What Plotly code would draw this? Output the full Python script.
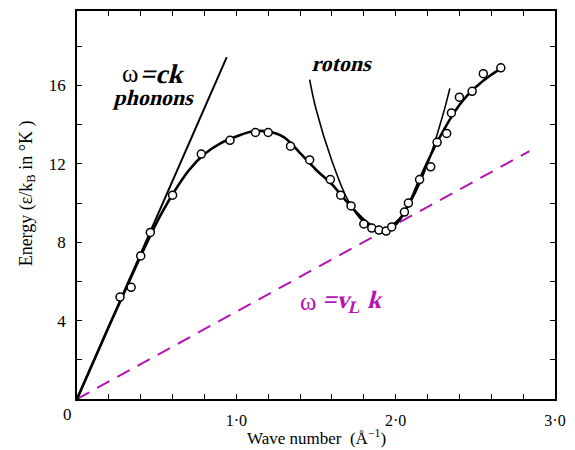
import plotly.graph_objects as go

# measured points (wave number in 1/Å, energy in K)
pts_k = [0.27, 0.34, 0.40, 0.46, 0.60, 0.78, 0.96, 1.12, 1.20, 1.34, 1.46, 1.59, 1.655,
         1.72, 1.80, 1.85, 1.895, 1.94, 1.975, 2.055, 2.08, 2.15, 2.22, 2.26, 2.32,
         2.35, 2.40, 2.48, 2.55, 2.66]
pts_e = [5.2, 5.7, 7.3, 8.5, 10.4, 12.5, 13.2, 13.6, 13.6, 12.9, 12.2, 11.2, 10.4,
         9.85, 8.93, 8.72, 8.62, 8.57, 8.78, 9.54, 10.0, 11.2, 11.85, 13.1, 13.55,
         14.6, 15.4, 15.7, 16.6, 16.9]

# smooth dispersion curve
fit_k = [0, 0.1, 0.2, 0.3, 0.4, 0.5, 0.55, 0.6, 0.7, 0.8, 0.9, 1.0, 1.1, 1.2, 1.3, 1.4,
         1.5, 1.6, 1.7, 1.8, 1.85, 1.9, 1.95, 2.0, 2.05, 2.1, 2.15, 2.2, 2.25, 2.3,
         2.35, 2.4, 2.45, 2.5, 2.6, 2.68]
fit_e = [0, 1.85, 3.7, 5.5, 7.3, 9.0, 9.75, 10.45, 11.65, 12.5, 13.05, 13.4, 13.65, 13.65,
         13.35, 12.55, 11.7, 10.95, 10.0, 9.15, 8.85, 8.7, 8.7, 8.9, 9.45, 10.25, 11.2,
         12.1, 12.95, 13.7, 14.4, 15.0, 15.5, 15.9, 16.55, 16.95]

# roton parabola
rot_k = [1.46, 1.5, 1.6, 1.7, 1.8, 1.9, 2.0, 2.1, 2.2, 2.3, 2.34]
rot_e = [16.3, 14.8, 12.15, 10.15, 9.02, 8.65, 9.02, 10.15, 12.0, 14.6, 15.85]

# phonon line and Landau line
ph_k = [0, 0.94]
ph_e = [0, 17.45]
vl_k = [0, 2.84]
vl_e = [0, 12.65]

x_tickvals = [1.0, 2.0, 3.0]
x_ticktext = ["1·0", "2·0", "3·0"]
y_tickvals = [4, 8, 12, 16]
y_ticktext = ["4", "8", "12", "16"]
x_marks = [round(0.2 * i, 1) for i in range(1, 15)]
y_marks = [2 * i for i in range(1, 10)]

MAG = "#b514b5"
SERIF = "Liberation Serif"
X_RANGE = [0, 3.0]
Y_RANGE = [0, 19.8]

fig = go.Figure()
fig.add_trace(go.Scatter(x=vl_k, y=vl_e, mode="lines",
                         line=dict(color=MAG, width=2, dash="14px,9px")))
fig.add_trace(go.Scatter(x=ph_k, y=ph_e, mode="lines",
                         line=dict(color="black", width=2)))
fig.add_trace(go.Scatter(x=rot_k, y=rot_e, mode="lines", line_shape="spline",
                         line=dict(color="black", width=1.6)))
fig.add_trace(go.Scatter(x=fit_k, y=fit_e, mode="lines", line_shape="spline",
                         line=dict(color="black", width=2.6)))
fig.add_trace(go.Scatter(x=pts_k, y=pts_e, mode="markers",
                         marker=dict(symbol="circle", size=8, color="white",
                                     line=dict(color="black", width=1.5))))
# empty trace that only carries the top/right tick axes
fig.add_trace(go.Scatter(x=[], y=[], xaxis="x2", yaxis="y2", mode="lines",
                         hoverinfo="skip"))

tick_style = dict(ticks="inside", ticklen=5, tickwidth=1.2, tickcolor="black",
                  showgrid=False, zeroline=False)

fig.update_layout(
    width=575, height=450,
    margin=dict(l=77, r=11, t=9, b=51),
    plot_bgcolor="white", paper_bgcolor="white",
    showlegend=False,
    font=dict(family=SERIF, color="black"),
    xaxis=dict(range=X_RANGE, tickvals=x_tickvals, ticktext=x_ticktext,
               minor=dict(tickvals=x_marks, ticks="inside", ticklen=5,
                          tickwidth=1.2, tickcolor="black", showgrid=False),
               showline=True, linecolor="black", linewidth=1.5, mirror=True,
               tickfont=dict(family=SERIF, size=16), ticklabelstandoff=6,
               **tick_style),
    yaxis=dict(range=Y_RANGE, tickvals=y_tickvals, ticktext=y_ticktext,
               minor=dict(tickvals=y_marks, ticks="inside", ticklen=5,
                          tickwidth=1.2, tickcolor="black", showgrid=False),
               showline=True, linecolor="black", linewidth=1.5, mirror=True,
               tickfont=dict(family=SERIF, size=17), ticklabelstandoff=6,
               **tick_style),
    xaxis2=dict(range=X_RANGE, overlaying="x", side="top", anchor="y2",
                tickvals=x_marks, showticklabels=False, showline=False,
                **tick_style),
    yaxis2=dict(range=Y_RANGE, overlaying="y", side="right", anchor="x2",
                tickvals=y_marks, showticklabels=False, showline=False,
                **tick_style),
)

ann = [
    dict(x=0, y=0, xref="paper", yref="paper", text="0", showarrow=False,
         xanchor="right", yanchor="top", xshift=-3, yshift=-4,
         font=dict(family=SERIF, size=17)),
    dict(x=0.5, y=0, xref="paper", yref="paper",
         text="Wave number  (Å<sup>−1</sup>)", showarrow=False,
         xanchor="center", yanchor="top", yshift=-25,
         font=dict(family=SERIF, size=17)),
    dict(x=0, y=0.53, xref="paper", yref="paper",
         text="Energy (ε/k<sub>B</sub> in °K )", showarrow=False,
         textangle=-90, xanchor="center", yanchor="middle", xshift=-50,
         font=dict(family=SERIF, size=18)),
    # 3: omega of phonon label
    dict(x=0.395, y=16.6, xref="x", yref="y", text="ω", showarrow=False,
         xanchor="right", font=dict(family=SERIF, size=25)),
    # 4
    dict(x=0.395, y=16.6, xref="x", yref="y", text="=ck", showarrow=False,
         xanchor="left", font=dict(family=SERIF, size=27, weight="bold")),
    # 5
    dict(x=0.49, y=15.4, xref="x", yref="y", text="phonons", showarrow=False,
         font=dict(family=SERIF, size=22, weight="bold")),
    # 6
    dict(x=1.67, y=17.1, xref="x", yref="y", text="rotons", showarrow=False,
         font=dict(family=SERIF, size=22, weight="bold")),
    # 7: omega of Landau label
    dict(x=1.515, y=5.0, xref="x", yref="y", text="ω", showarrow=False,
         xanchor="right", font=dict(family=SERIF, size=25, color=MAG)),
    # 8
    dict(x=1.54, y=5.0, xref="x", yref="y", text="=v<sub>L</sub> k",
         showarrow=False, xanchor="left",
         font=dict(family=SERIF, size=25, color=MAG, weight="bold")),
]
fig.update_layout(annotations=ann)

# slant the bold labels (no serif italic face is installed)
post = """
var gd = document.getElementById('{plot_id}');
function slant(){
  [4,5,6,8].forEach(function(i){
    gd.querySelectorAll('.annotation[data-index="'+i+'"] text.annotation-text').forEach(function(t){
      t.style.transformBox = 'fill-box';
      t.style.transformOrigin = 'center';
      t.style.transform = 'skewX(-14deg)';
    });
  });
}
slant();
if (gd.on) { gd.on('plotly_afterplot', slant); }
"""

fig.write_html("out.html", post_script=post)
